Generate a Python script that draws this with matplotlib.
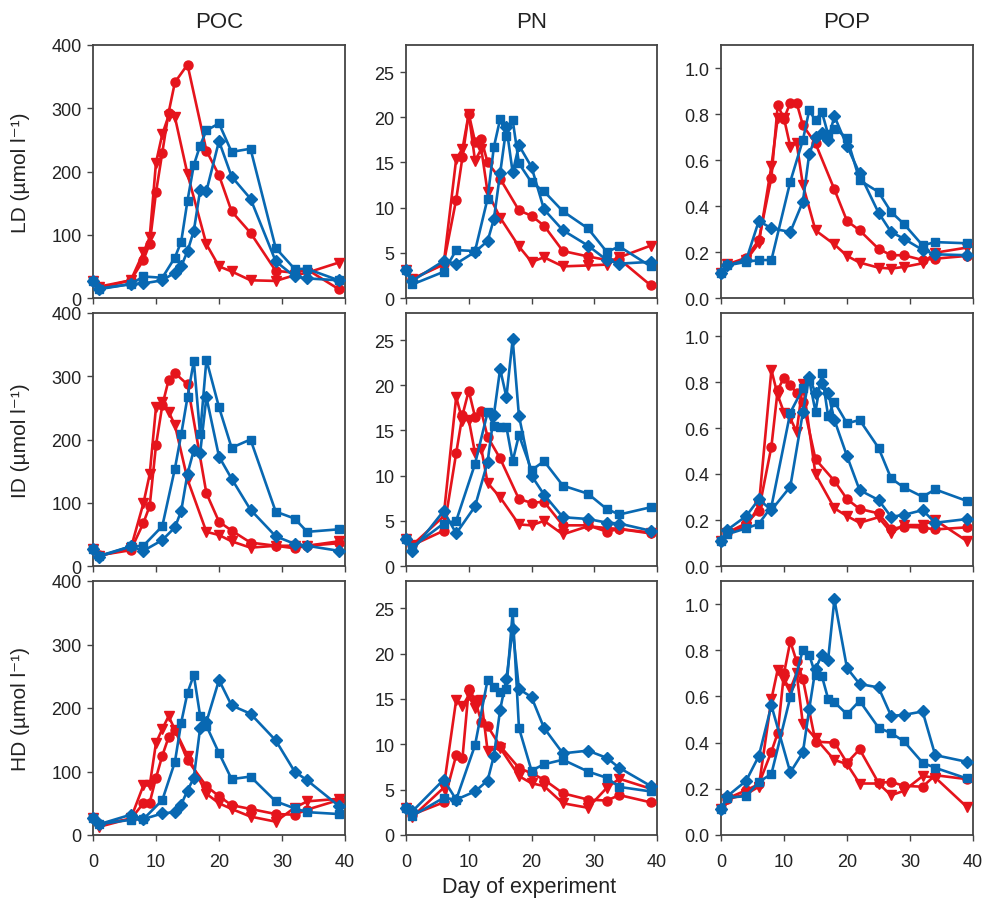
import matplotlib
matplotlib.use("Agg")
import matplotlib.pyplot as plt

plt.rcParams["font.family"] = ["Liberation Sans", "DejaVu Sans"]

# sampling days (POP column was sampled on a few extra days)
DAYS_RED = [0, 1, 6, 8, 9, 10, 11, 12, 13, 15, 18, 20, 22, 25, 29, 32, 34, 39]
DAYS_BLUE = [0, 1, 6, 8, 11, 13, 14, 15, 16, 17, 18, 20, 22, 25, 29, 32, 34, 39]
DAYS_RED_POP = [0, 1, 4, 6, 8, 9, 10, 11, 12, 13, 15, 18, 20, 22, 25, 27, 29, 32, 34, 39]
DAYS_BLUE_POP = [0, 1, 4, 6, 8, 11, 13, 14, 15, 16, 17, 18, 20, 22, 25, 27, 29, 32, 34, 39]

ROWS = ["LD", "ID", "HD"]
COLS = ["POC", "PN", "POP"]

# ---- LD ----
LD_POC_circ = [27, 16, 28, 60, 86, 167, 230, 293, 341, 369, 233, 194, 137, 103, 43, 40, 45, 14]
LD_POC_tri = [27, 18, 28, 72, 96, 214, 259, 288, 286, 196, 85, 50, 42, 28, 27, 36, 40, 56]
LD_POC_sq = [27, 14, 22, 34, 32, 64, 89, 154, 210, 241, 265, 276, 231, 236, 79, 46, 46, 28]
LD_POC_dia = [27, 15, 22, 23, 28, 40, 50, 74, 106, 170, 169, 248, 192, 157, 58, 34, 31, 28]

LD_PN_circ = [3.1, 2.1, 3.8, 10.9, 15.6, 20.4, 17.3, 17.6, 15.0, 13.2, 9.7, 9.1, 8.0, 5.2, 4.6, 4.2, 4.3, 1.4]
LD_PN_tri = [3.1, 2.1, 3.7, 15.4, 16.5, 20.4, 15.2, 16.5, 11.7, 8.9, 5.7, 4.0, 4.5, 3.5, 3.6, 3.7, 4.5, 5.8]
LD_PN_sq = [3.1, 1.5, 2.9, 5.3, 5.2, 11.0, 16.7, 19.8, 17.9, 19.7, 14.9, 12.8, 11.8, 9.6, 7.7, 5.1, 5.7, 3.5]
LD_PN_dia = [3.1, 1.9, 4.1, 3.8, 5.1, 6.3, 8.7, 13.8, 18.9, 13.9, 16.9, 14.5, 9.8, 7.5, 5.8, 4.2, 3.8, 4.0]

LD_POP_circ = [0.11, 0.146, 0.175, 0.252, 0.523, 0.838, 0.78, 0.849, 0.849, 0.751, 0.672, 0.472, 0.335,
               0.294, 0.214, 0.186, 0.186, 0.165, 0.171, 0.183]
LD_POP_tri = [0.11, 0.146, 0.165, 0.238, 0.574, 0.781, 0.781, 0.658, 0.675, 0.491, 0.294, 0.233, 0.183,
              0.154, 0.132, 0.128, 0.135, 0.151, 0.197, 0.219]
LD_POP_sq = [0.11, 0.142, 0.157, 0.165, 0.165, 0.506, 0.687, 0.816, 0.772, 0.81, 0.712, 0.736, 0.697,
             0.512, 0.461, 0.374, 0.323, 0.229, 0.243, 0.238]
LD_POP_dia = [0.11, 0.142, 0.165, 0.335, 0.303, 0.287, 0.419, 0.625, 0.70, 0.719, 0.687, 0.791, 0.661,
              0.542, 0.371, 0.287, 0.258, 0.209, 0.19, 0.186]

# ---- ID ----
ID_POC_circ = [27, 17, 25, 68, 95, 191, 254, 294, 305, 287, 115, 70, 56, 37, 32, 28, 32, 36]
ID_POC_tri = [27, 16, 28, 99, 145, 251, 259, 244, 223, 137, 54, 49, 39, 29, 32, 32, 32, 39]
ID_POC_sq = [27, 16, 31, 32, 63, 154, 208, 267, 324, 208, 326, 251, 187, 200, 86, 75, 54, 58]
ID_POC_dia = [27, 15, 31, 24, 41, 61, 87, 146, 183, 178, 267, 173, 138, 89, 47, 35, 32, 24]

ID_PN_circ = [3.0, 2.3, 3.9, 12.5, 16.7, 19.4, 16.5, 17.1, 14.3, 11.9, 7.4, 7.0, 7.1, 4.5, 4.5, 3.8, 4.1, 3.7]
ID_PN_tri = [3.0, 2.3, 5.5, 18.7, 16.1, 16.2, 12.5, 13.0, 9.2, 7.6, 4.6, 4.5, 5.0, 3.5, 4.4, 4.2, 4.1, 3.6]
ID_PN_sq = [3.0, 2.1, 4.7, 5.0, 11.3, 17.0, 15.5, 15.4, 15.4, 11.6, 14.5, 10.6, 11.6, 8.9, 8.0, 6.3, 5.7, 6.5]
ID_PN_dia = [3.0, 1.7, 6.1, 3.6, 6.6, 11.5, 16.7, 21.8, 18.7, 25.1, 16.6, 10.0, 7.9, 5.4, 5.2, 4.8, 4.7, 3.9]

ID_POP_circ = [0.109, 0.145, 0.186, 0.241, 0.519, 0.765, 0.819, 0.787, 0.751, 0.714, 0.464, 0.37, 0.291,
               0.248, 0.229, 0.161, 0.171, 0.167, 0.159, 0.168]
ID_POP_tri = [0.109, 0.145, 0.171, 0.26, 0.852, 0.743, 0.667, 0.642, 0.584, 0.791, 0.399, 0.251, 0.217,
              0.188, 0.212, 0.145, 0.178, 0.178, 0.2, 0.109]
ID_POP_sq = [0.109, 0.138, 0.164, 0.183, 0.258, 0.667, 0.772, 0.81, 0.671, 0.838, 0.652, 0.714, 0.62,
             0.635, 0.514, 0.381, 0.342, 0.301, 0.333, 0.283]
ID_POP_dia = [0.109, 0.157, 0.217, 0.29, 0.243, 0.345, 0.668, 0.823, 0.751, 0.797, 0.754, 0.635, 0.478,
              0.33, 0.287, 0.214, 0.222, 0.243, 0.188, 0.204]

# ---- HD ----
HD_POC_circ = [26, 18, 25, 50, 51, 90, 125, 154, 166, 118, 77, 61, 47, 41, 33, 32, 40, 55]
HD_POC_tri = [26, 13, 26, 78, 78, 145, 167, 187, 166, 125, 65, 50, 41, 29, 21, 43, 53, 57]
HD_POC_sq = [26, 17, 24, 25, 55, 115, 177, 224, 252, 188, 172, 129, 88, 92, 53, 42, 36, 33]
HD_POC_dia = [26, 17, 32, 25, 34, 36, 48, 70, 90, 168, 178, 244, 204, 191, 149, 100, 86, 46]

HD_PN_circ = [2.95, 2.25, 3.6, 8.8, 8.5, 16.1, 14.9, 12.5, 12.0, 9.8, 7.4, 6.8, 6.1, 4.6, 3.9, 3.8, 4.4, 3.6]
HD_PN_tri = [2.95, 2.0, 5.2, 14.9, 14.2, 15.4, 14.0, 14.9, 9.3, 9.6, 6.5, 5.7, 5.4, 3.5, 3.0, 5.2, 6.2, 5.1]
HD_PN_sq = [2.95, 2.1, 4.1, 3.9, 9.9, 17.1, 16.3, 15.8, 16.1, 24.6, 11.8, 7.1, 7.8, 8.3, 7.0, 6.3, 5.3, 4.8]
HD_PN_dia = [2.95, 2.6, 6.1, 3.9, 4.8, 6.0, 8.7, 13.8, 17.2, 22.7, 16.1, 15.2, 11.8, 9.0, 9.3, 8.5, 7.4, 5.4]

HD_POP_circ = [0.112, 0.158, 0.194, 0.22, 0.361, 0.441, 0.70, 0.839, 0.752, 0.675, 0.404, 0.40, 0.313,
               0.371, 0.226, 0.23, 0.213, 0.209, 0.259, 0.242]
HD_POP_tri = [0.112, 0.154, 0.177, 0.209, 0.588, 0.716, 0.672, 0.632, 0.701, 0.48, 0.419, 0.325, 0.307,
              0.223, 0.223, 0.172, 0.191, 0.255, 0.249, 0.122]
HD_POP_sq = [0.112, 0.162, 0.168, 0.23, 0.264, 0.597, 0.803, 0.781, 0.694, 0.69, 0.59, 0.575, 0.523,
             0.581, 0.465, 0.441, 0.407, 0.313, 0.291, 0.245]
HD_POP_dia = [0.112, 0.168, 0.235, 0.342, 0.561, 0.271, 0.358, 0.545, 0.72, 0.778, 0.759, 1.02, 0.723,
              0.654, 0.639, 0.516, 0.520, 0.535, 0.346, 0.317]

PANELS = {
    ("LD", "POC"): (LD_POC_circ, LD_POC_tri, LD_POC_sq, LD_POC_dia),
    ("LD", "PN"): (LD_PN_circ, LD_PN_tri, LD_PN_sq, LD_PN_dia),
    ("LD", "POP"): (LD_POP_circ, LD_POP_tri, LD_POP_sq, LD_POP_dia),
    ("ID", "POC"): (ID_POC_circ, ID_POC_tri, ID_POC_sq, ID_POC_dia),
    ("ID", "PN"): (ID_PN_circ, ID_PN_tri, ID_PN_sq, ID_PN_dia),
    ("ID", "POP"): (ID_POP_circ, ID_POP_tri, ID_POP_sq, ID_POP_dia),
    ("HD", "POC"): (HD_POC_circ, HD_POC_tri, HD_POC_sq, HD_POC_dia),
    ("HD", "PN"): (HD_PN_circ, HD_PN_tri, HD_PN_sq, HD_PN_dia),
    ("HD", "POP"): (HD_POP_circ, HD_POP_tri, HD_POP_sq, HD_POP_dia),
}

YLIM = {"POC": 400, "PN": 28, "POP": 1.1}
YTICKS = {"POC": [0, 100, 200, 300, 400], "PN": [0, 5, 10, 15, 20, 25],
          "POP": [0.0, 0.2, 0.4, 0.6, 0.8, 1.0]}
XTICKS = [0, 10, 20, 30, 40]

RED = "#e5141c"
BLUE = "#0868b2"
SPINE = "#444444"

W, H = 985, 903
col_px = [(93, 345), (406, 657), (721, 973)]
row_px = [(46, 299), (314, 567), (582, 836)]

fig = plt.figure(figsize=(W / 100, H / 100), dpi=100)

for i, row in enumerate(ROWS):
    for j, col in enumerate(COLS):
        x0, x1 = col_px[j]
        y0, y1 = row_px[i]
        ax = fig.add_axes([x0 / W, 1 - y1 / H, (x1 - x0) / W, (y1 - y0) / H])
        circ, tri, sq, dia = PANELS[(row, col)]
        dr = DAYS_RED_POP if col == "POP" else DAYS_RED
        db = DAYS_BLUE_POP if col == "POP" else DAYS_BLUE
        kw = dict(lw=1.9, clip_on=False, zorder=3)
        ax.plot(dr, circ, color=RED, marker="o", ms=6.5, **kw)
        ax.plot(dr, tri, color=RED, marker="v", ms=7.8, **kw)
        ax.plot(db, sq, color=BLUE, marker="s", ms=6.3, **kw)
        ax.plot(db, dia, color=BLUE, marker="D", ms=5.8, **kw)

        ax.set_xlim(0, 40)
        ax.set_ylim(0, YLIM[col])
        ax.set_xticks(XTICKS)
        ax.set_yticks(YTICKS[col])
        if col == "POP":
            ax.set_yticklabels(["%.1f" % v for v in YTICKS[col]])
        ax.tick_params(direction="out", length=4.3, width=1.0, color=SPINE,
                       labelsize=13, labelcolor="#222222")
        ax.tick_params(axis="y", pad=4)
        ax.tick_params(axis="x", pad=9)
        if i < 2:
            ax.tick_params(axis="x", labelbottom=False)
        for sp in ax.spines.values():
            sp.set_color(SPINE)
            sp.set_linewidth(1.3)

        if i == 0:
            fig.text((x0 + x1) / 2 / W, 1 - 22 / H, col, ha="center", va="center",
                     fontsize=16, color="#222222")
        if j == 0:
            fig.text(21 / W, 1 - (y0 + y1) / 2 / H, f"{row} (µmol l⁻¹)", rotation=90,
                     ha="center", va="center", fontsize=15, color="#222222")

fig.text(529 / W, 1 - 888 / H, "Day of experiment", ha="center", va="center",
         fontsize=15.5, color="#222222")

fig.savefig("out.png", dpi=100)
